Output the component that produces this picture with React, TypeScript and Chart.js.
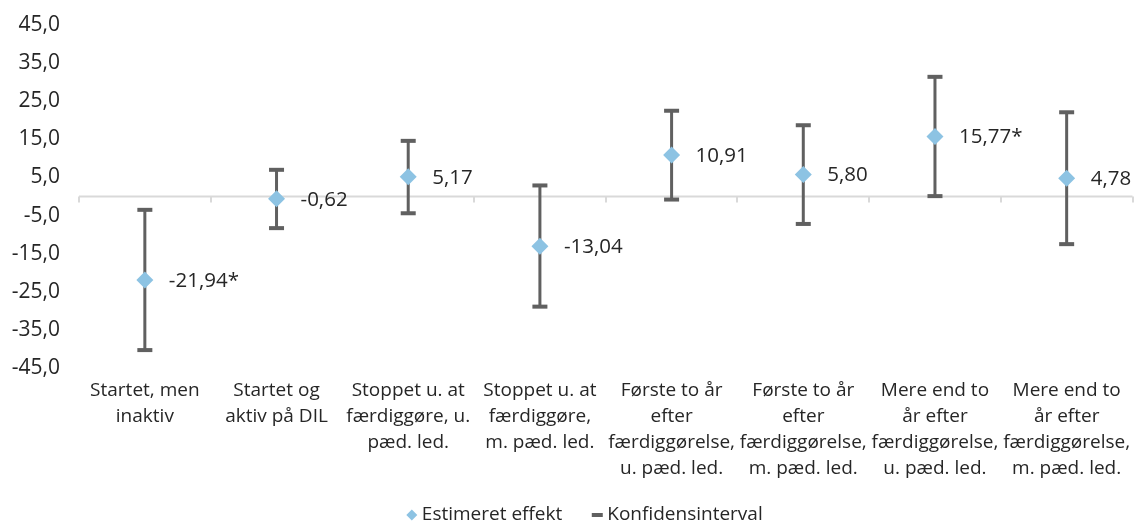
import React, { useEffect, useRef } from 'react';
import { Chart, registerables } from 'chart.js';

Chart.register(...registerables);

// ---- data ----
const categories: string[][] = [
  ['Startet, men', 'inaktiv'],
  ['Startet og', 'aktiv på DIL'],
  ['Stoppet u. at', 'færdiggøre, u.', 'pæd. led.'],
  ['Stoppet u. at', 'færdiggøre,', 'm. pæd. led.'],
  ['Første to år', 'efter', 'færdiggørelse,', 'u. pæd. led.'],
  ['Første to år', 'efter', 'færdiggørelse,', 'm. pæd. led.'],
  ['Mere end to', 'år efter', 'færdiggørelse,', 'u. pæd. led.'],
  ['Mere end to', 'år efter', 'færdiggørelse,', 'm. pæd. led.'],
];
const estimates = [-21.94, -0.62, 5.17, -13.04, 10.91, 5.8, 15.77, 4.78];
const significant = [true, false, false, false, false, false, true, false];
const ciLower = [-40.3, -8.3, -4.4, -28.9, -0.8, -7.2, 0.1, -12.5];
const ciUpper = [-3.5, 7.0, 14.6, 2.9, 22.5, 18.7, 31.4, 22.1];
const yTicks = [-45, -35, -25, -15, -5, 5, 15, 25, 35, 45];
const seriesName = 'Estimeret effekt';
const ciName = 'Konfidensinterval';

// ---- styles ----
const FONT = "'Open Sans', 'DejaVu Sans', sans-serif";
const TEXT = '#262626';
const DIAMOND = '#8DC3E3';
const BAR = '#606060';
const AXIS = '#D9D9D9';

const fmt = (v: number, d: number) => v.toFixed(d).replace('.', ',');

export default function App() {
  const ref = useRef<HTMLCanvasElement>(null);

  useEffect(() => {
    document.body.style.margin = '0';
    const canvas = ref.current!;

    const zeroAxis = {
      id: 'zeroAxis',
      beforeDatasetsDraw(chart: any) {
        const { ctx, chartArea, scales } = chart;
        const x = scales.x;
        const y = scales.y;
        const y0 = y.getPixelForValue(0);
        ctx.save();
        ctx.strokeStyle = AXIS;
        ctx.lineWidth = 2;
        ctx.beginPath();
        ctx.moveTo(chartArea.left, y0);
        ctx.lineTo(chartArea.right, y0);
        for (let i = 0; i <= categories.length; i++) {
          const px = Math.round(x.getPixelForValue(i - 0.5));
          ctx.moveTo(px, y0);
          ctx.lineTo(px, y0 + 6);
        }
        ctx.stroke();
        ctx.restore();
      },
    };

    const errorBars = {
      id: 'errorBars',
      beforeDatasetsDraw(chart: any) {
        const { ctx, scales } = chart;
        const x = scales.x;
        const y = scales.y;
        ctx.save();
        ctx.fillStyle = BAR;
        for (let i = 0; i < estimates.length; i++) {
          const px = x.getPixelForValue(i);
          const yl = y.getPixelForValue(ciLower[i]);
          const yu = y.getPixelForValue(ciUpper[i]);
          ctx.fillRect(px - 1.5, yu, 3, yl - yu);
          ctx.fillRect(px - 7.5, yu - 2, 15, 4);
          ctx.fillRect(px - 7.5, yl - 2, 15, 4);
        }
        ctx.restore();
      },
    };

    const valueLabels = {
      id: 'valueLabels',
      afterDatasetsDraw(chart: any) {
        const { ctx } = chart;
        const meta = chart.getDatasetMeta(0);
        ctx.save();
        ctx.font = `20.5px ${FONT}`;
        ctx.fillStyle = TEXT;
        ctx.textAlign = 'left';
        ctx.textBaseline = 'middle';
        meta.data.forEach((pt: any, i: number) => {
          const txt = fmt(estimates[i], 2) + (significant[i] ? '*' : '');
          ctx.fillText(txt, pt.x + 24, pt.y + 1);
        });
        ctx.restore();
      },
    };

    const customLegend = {
      id: 'customLegend',
      afterDraw(chart: any) {
        const { ctx, width, height } = chart;
        ctx.save();
        ctx.font = `19px ${FONT}`;
        const w1 = ctx.measureText(seriesName).width;
        const w2 = ctx.measureText(ciName).width;
        const textGap = 10;
        const itemGap = 35;
        const total = 5.5 + textGap + w1 + itemGap + textGap + w2;
        const cy = height - 12;
        let x = width / 2 + 14 - total / 2 + 5.5; // first marker centre
        // diamond
        ctx.fillStyle = DIAMOND;
        ctx.beginPath();
        ctx.moveTo(x, cy - 5.5);
        ctx.lineTo(x + 5.5, cy);
        ctx.lineTo(x, cy + 5.5);
        ctx.lineTo(x - 5.5, cy);
        ctx.closePath();
        ctx.fill();
        ctx.fillStyle = TEXT;
        ctx.textAlign = 'left';
        ctx.textBaseline = 'middle';
        ctx.fillText(seriesName, x + textGap, cy);
        x = x + textGap + w1 + itemGap;
        // bar marker
        ctx.fillStyle = BAR;
        ctx.fillRect(x - 5.5, cy - 2, 11, 4);
        ctx.fillStyle = TEXT;
        ctx.fillText(ciName, x + textGap, cy);
        ctx.restore();
      },
    };

    const chart = new Chart(canvas, {
      type: 'line',
      data: {
        labels: categories as any,
        datasets: [
          {
            label: seriesName,
            data: estimates,
            showLine: false,
            pointStyle: 'rectRot',
            pointRadius: 8.5,
            pointHoverRadius: 8.5,
            pointBackgroundColor: DIAMOND,
            pointBorderWidth: 0,
            borderColor: DIAMOND,
            backgroundColor: DIAMOND,
          },
        ],
      },
      options: {
        animation: false,
        responsive: true,
        maintainAspectRatio: false,
        layout: { padding: { left: 12, right: 1, top: 25, bottom: 45 } },
        scales: {
          x: {
            type: 'category',
            offset: true,
            grid: { display: false, drawTicks: false },
            border: { display: false },
            afterFit: (axis: any) => {
              axis.height = 114;
              axis.paddingLeft = 0;
              axis.paddingRight = 0;
            },
            ticks: {
              autoSkip: false,
              maxRotation: 0,
              minRotation: 0,
              padding: 9,
              color: TEXT,
              font: { family: FONT, size: 19, lineHeight: 1.38 },
            },
          },
          y: {
            type: 'linear',
            min: -45,
            max: 45,
            grid: { display: false, drawTicks: false },
            border: { display: false },
            afterBuildTicks: (axis: any) => {
              axis.ticks = yTicks.map((v) => ({ value: v }));
            },
            afterFit: (axis: any) => {
              axis.width = 67;
              axis.paddingTop = 0;
              axis.paddingBottom = 0;
            },
            ticks: {
              padding: 19,
              color: TEXT,
              font: { family: FONT, size: 21 },
              callback: (v: any) => fmt(Number(v), 1),
            },
          },
        },
        plugins: {
          tooltip: { enabled: false },
          legend: { display: false },
        },
      },
      plugins: [zeroAxis, errorBars, valueLabels, customLegend],
    });

    return () => chart.destroy();
  }, []);

  return (
    <div style={{ position: 'relative', width: 1141, height: 527 }}>
      <canvas ref={ref} />
    </div>
  );
}
